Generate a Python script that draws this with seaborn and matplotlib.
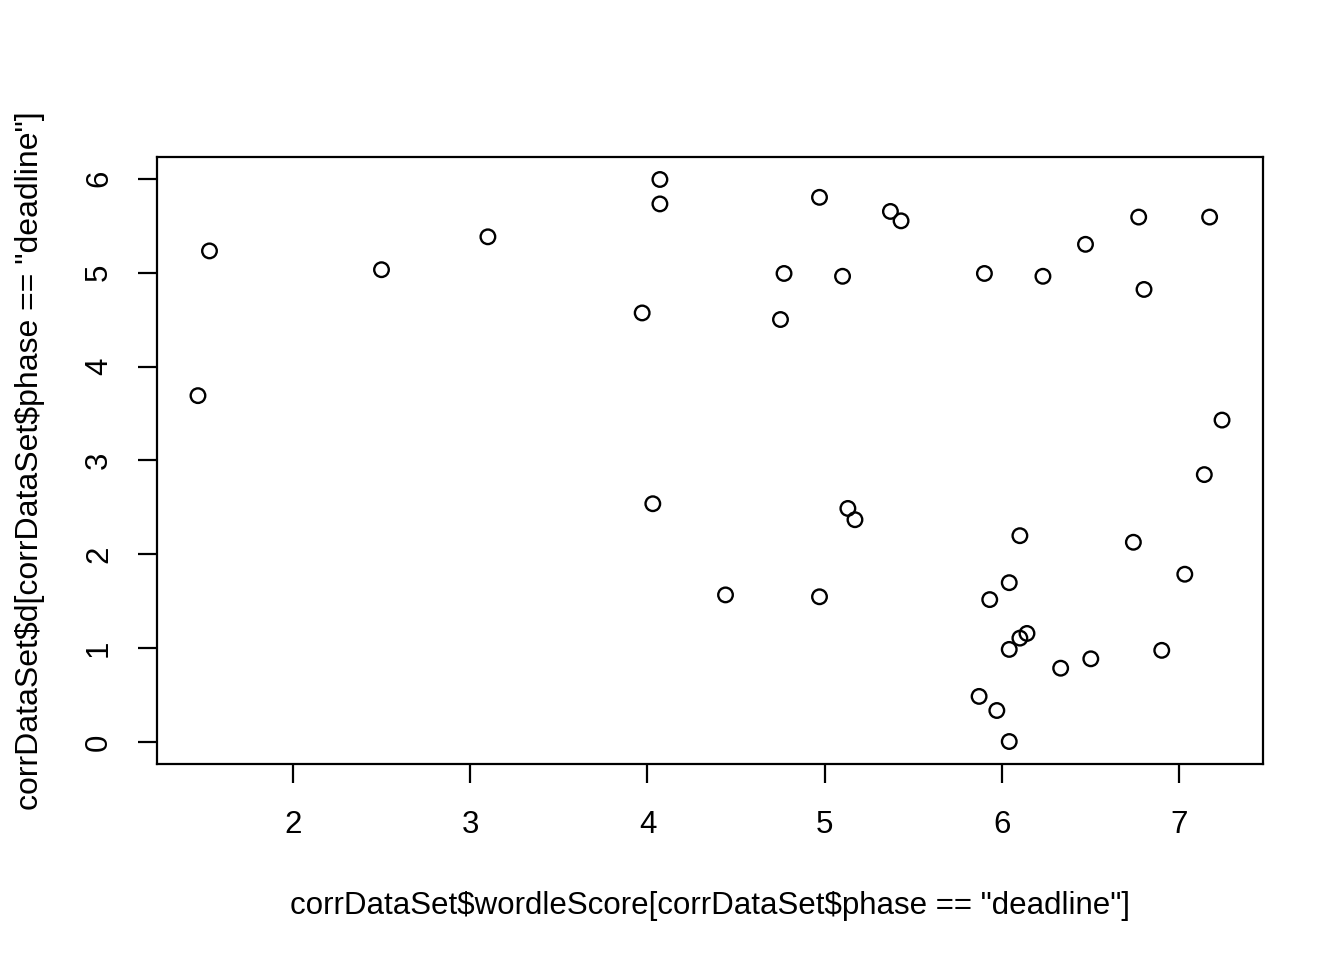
import numpy as np
import pandas as pd
import matplotlib
matplotlib.use("Agg")
import matplotlib.pyplot as plt
import seaborn as sns

# values
wordle_score = [1.465, 1.53, 2.50, 3.10, 3.97, 4.07, 4.07, 4.03, 4.44, 4.75,
                4.77, 4.97, 4.97, 5.10, 5.13, 5.17, 5.37, 5.43, 5.90, 6.23,
                6.47, 6.77, 7.17, 6.80, 7.24, 7.14, 6.10, 6.74, 6.04, 5.93,
                7.03, 6.14, 6.10, 6.04, 6.33, 6.50, 6.90, 5.87, 5.97, 6.04]
d_value = [3.69, 5.23, 5.03, 5.38, 4.57, 5.99, 5.73, 2.54, 1.57, 4.50,
           4.99, 5.80, 1.55, 4.96, 2.49, 2.37, 5.65, 5.55, 4.99, 4.96,
           5.30, 5.59, 5.59, 4.82, 3.43, 2.85, 2.20, 2.13, 1.70, 1.52,
           1.79, 1.16, 1.11, 0.99, 0.79, 0.89, 0.98, 0.49, 0.34, 0.01]
x_ticks = [2, 3, 4, 5, 6, 7]
y_ticks = [0, 1, 2, 3, 4, 5, 6]

x_label = 'corrDataSet\\$wordleScore[corrDataSet\\$phase == "deadline"]'
y_label = 'corrDataSet\\$d[corrDataSet\\$phase == "deadline"]'

df = pd.DataFrame({"x": wordle_score, "y": d_value})

sns.set_theme(style="white")
plt.rcParams['font.family'] = ['Liberation Sans', 'DejaVu Sans']

fig = plt.figure(figsize=(13.44, 9.6), dpi=100)
ax = fig.add_axes([157 / 1344, 1 - 764 / 960, (1263 - 157) / 1344, (764 - 157) / 960])

sns.scatterplot(data=df, x="x", y="y", ax=ax, marker="o", s=110,
                facecolor="none", edgecolor="black", linewidth=1.7)

# R style 4% padding
def pad(v):
    lo, hi = min(v), max(v)
    r = hi - lo
    return lo - 0.04 * r, hi + 0.04 * r

ax.set_xlim(*pad(wordle_score))
ax.set_ylim(*pad(d_value))
ax.set_xticks(x_ticks)
ax.set_yticks(y_ticks)
ax.set_yticklabels([str(t) for t in y_ticks], rotation=90, va="center")
ax.tick_params(axis="both", direction="out", length=14, width=1.6,
               color="black", labelsize=22.5, labelcolor="black", pad=17,
               bottom=True, left=True)
ax.tick_params(axis="x", pad=19)
for s in ax.spines.values():
    s.set_visible(True)
    s.set_color("black")
    s.set_linewidth(1.6)

ax.set_xlabel(x_label, fontsize=22.5, color="black", labelpad=37)
ax.set_ylabel(y_label, fontsize=23, color="black", labelpad=28)

fig.savefig("out.png", dpi=100, facecolor="white")
